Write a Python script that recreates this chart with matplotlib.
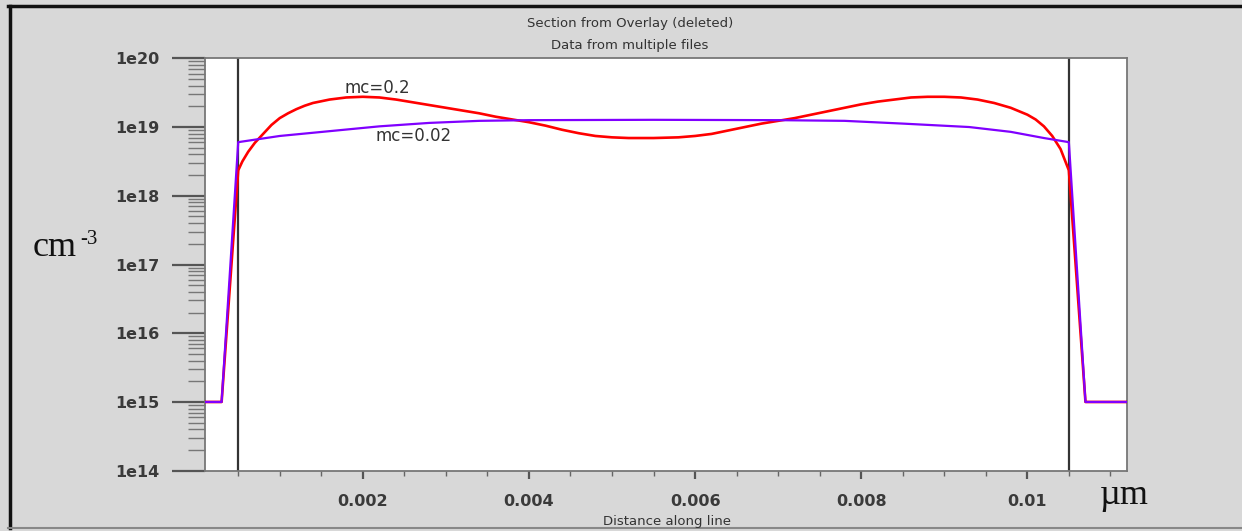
import matplotlib
matplotlib.use("Agg")
import matplotlib.pyplot as plt
from matplotlib.lines import Line2D
from matplotlib.ticker import FixedLocator, LogLocator, NullFormatter
import numpy as np

# data: x in um, log10 of concentration in cm^-3
x_red = [0.0001, 0.0003, 0.0005, 0.00055, 0.00062, 0.0007, 0.0008, 0.0009, 0.0010,
         0.0011, 0.0012, 0.0013, 0.0014, 0.0016, 0.0018, 0.0020, 0.0022, 0.0024,
         0.0026, 0.0028, 0.0030, 0.0032, 0.0034, 0.0036, 0.0038, 0.0040, 0.0042,
         0.0044, 0.0046, 0.0048, 0.0050, 0.0052, 0.0055, 0.0058, 0.0060, 0.0062,
         0.0064, 0.0066, 0.0068, 0.0070, 0.0072, 0.0074, 0.0076, 0.0078, 0.0080,
         0.0082, 0.0084, 0.0086, 0.0088, 0.0090, 0.0092, 0.0094, 0.0096, 0.0098,
         0.0100, 0.0101, 0.0102, 0.0103, 0.0104, 0.0105, 0.0107, 0.0112]
log_red = [15.0, 15.0, 18.37, 18.50, 18.64, 18.77, 18.90, 19.03, 19.13,
           19.20, 19.26, 19.31, 19.35, 19.40, 19.43, 19.44, 19.43, 19.40,
           19.36, 19.32, 19.28, 19.24, 19.20, 19.15, 19.11, 19.07, 19.02,
           18.96, 18.91, 18.87, 18.85, 18.84, 18.84, 18.85, 18.87, 18.90,
           18.95, 19.00, 19.05, 19.09, 19.13, 19.18, 19.23, 19.28, 19.33,
           19.37, 19.40, 19.43, 19.44, 19.44, 19.43, 19.40, 19.35, 19.28,
           19.18, 19.11, 19.01, 18.87, 18.68, 18.37, 15.0, 15.0]

x_purple = [0.0001, 0.0003, 0.0005, 0.0010, 0.0016, 0.0022, 0.0028, 0.0034, 0.0040,
            0.0055, 0.0070, 0.0078, 0.0085, 0.0093, 0.0098, 0.0102, 0.0105, 0.0107,
            0.0112]
log_purple = [15.0, 15.0, 18.78, 18.87, 18.94, 19.01, 19.06, 19.09, 19.10,
              19.105, 19.10, 19.09, 19.05, 19.00, 18.93, 18.84, 18.78, 15.0,
              15.0]

x_major = [0.002, 0.004, 0.006, 0.008, 0.01]
x_labels = ["0.002", "0.004", "0.006", "0.008", "0.01"]
y_major = [1e14, 1e15, 1e16, 1e17, 1e18, 1e19, 1e20]
y_labels = ["1e14", "1e15", "1e16", "1e17", "1e18", "1e19", "1e20"]
boundaries = [0.0005, 0.0105]

W, H = 1242, 531
fig = plt.figure(figsize=(W / 100, H / 100), dpi=100, facecolor="#d8d8d8")
ax = fig.add_axes([205 / W, 1 - 470.7 / H, 922 / W, 412.4 / H])

ax.plot(x_red, np.power(10.0, log_red), color="#ff0000", lw=1.9, zorder=3)
ax.plot(x_purple, np.power(10.0, log_purple), color="#8000ff", lw=1.6, zorder=4)
for b in boundaries:
    ax.axvline(b, color="#333333", lw=1.6, zorder=2)

ax.set_yscale("log")
ax.set_xlim(0.0001, 0.0112)
ax.set_ylim(1e14, 1e20)

ax.xaxis.set_major_locator(FixedLocator(x_major))
ax.set_xticklabels(x_labels)
ax.xaxis.set_minor_locator(FixedLocator(np.arange(0.0005, 0.0112, 0.0005)))
ax.yaxis.set_major_locator(FixedLocator(y_major))
ax.set_yticklabels(y_labels)
ax.yaxis.set_minor_locator(LogLocator(base=10, subs=np.arange(2, 10), numticks=20))
ax.yaxis.set_minor_formatter(NullFormatter())

ax.tick_params(axis="y", which="major", length=23.5, width=1.6, color="#555555", pad=9)
ax.tick_params(axis="y", which="minor", length=12, width=1.0, color="#777777")
ax.tick_params(axis="x", which="major", length=6, width=1.6, color="#555555", pad=11)
ax.tick_params(axis="x", which="minor", length=3.5, width=1.0, color="#666666")
for t in ax.get_xticklabels() + ax.get_yticklabels():
    t.set_fontsize(11.5)
    t.set_fontweight("bold")
    t.set_color("#3a3a3a")

for s in ax.spines.values():
    s.set_color("#777777")
    s.set_linewidth(1.3)

ax.text(0.002175, 3.7e19, "mc=0.2", ha="center", va="center", fontsize=12, color="#333333")
ax.text(0.00261, 7.4e18, "mc=0.02", ha="center", va="center", fontsize=12, color="#333333")

fig.text(630 / W, 1 - 23 / H, "Section from Overlay (deleted)", ha="center", va="center",
         fontsize=9.5, color="#333333")
fig.text(630 / W, 1 - 46 / H, "Data from multiple files", ha="center", va="center",
         fontsize=9.5, color="#333333")
fig.text(667 / W, 1 - 521 / H, "Distance along line", ha="center", va="center",
         fontsize=9.5, color="#333333")

fig.text(33 / W, 1 - 247 / H, "cm", ha="left", va="center",
         fontsize=26, family="Liberation Serif", color="#111111")
fig.text(80 / W, 1 - 239 / H, "-3", ha="left", va="center",
         fontsize=15, family="Liberation Serif", color="#111111")
fig.text(1100 / W, 1 - 496 / H, "\u00b5m", ha="left", va="center",
         fontsize=26, family="Liberation Serif", color="#111111")

# window frame
fig.add_artist(Line2D([8 / W, 1], [1 - 6 / H, 1 - 6 / H], transform=fig.transFigure,
                      color="#111111", lw=2.5))
fig.add_artist(Line2D([10 / W, 10 / W], [1 - 6 / H, 1 - 528 / H], transform=fig.transFigure,
                      color="#111111", lw=2.5))
fig.add_artist(Line2D([8 / W, 1], [1 - 528 / H, 1 - 528 / H], transform=fig.transFigure,
                      color="#888888", lw=1.5))

fig.savefig("out.png", dpi=100, facecolor=fig.get_facecolor())
